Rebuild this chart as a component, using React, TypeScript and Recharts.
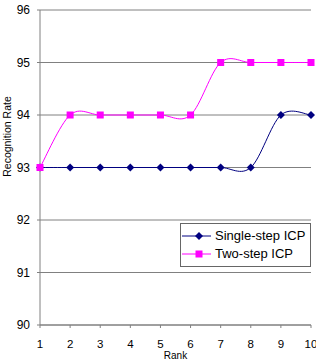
import React from 'react';
import { LineChart, Line, XAxis, YAxis, CartesianGrid } from 'recharts';

const ranks = [1, 2, 3, 4, 5, 6, 7, 8, 9, 10];
const singleStep = [93, 93, 93, 93, 93, 93, 93, 93, 94, 94];
const twoStep = [93, 94, 94, 94, 94, 94, 95, 95, 95, 95];
const yTicks = [90, 91, 92, 93, 94, 95, 96];

const data = ranks.map((r, i) => ({ rank: r, single: singleStep[i], two: twoStep[i] }));

const FONT = 'Arial, "Liberation Sans", sans-serif';

// Excel-style smoothed line (Catmull-Rom through the points)
const excelSmooth = (context: any) => {
  let pts: number[][] = [];
  return {
    areaStart() {},
    areaEnd() {},
    lineStart() {
      pts = [];
    },
    point(x: number, y: number) {
      pts.push([+x, +y]);
    },
    lineEnd() {
      if (!pts.length) return;
      context.moveTo(pts[0][0], pts[0][1]);
      for (let i = 0; i < pts.length - 1; i++) {
        const p0 = pts[i - 1] || pts[i];
        const p1 = pts[i];
        const p2 = pts[i + 1];
        const p3 = pts[i + 2] || p2;
        context.bezierCurveTo(
          p1[0] + (p2[0] - p0[0]) / 6,
          p1[1] + (p2[1] - p0[1]) / 6,
          p2[0] - (p3[0] - p1[0]) / 6,
          p2[1] - (p3[1] - p1[1]) / 6,
          p2[0],
          p2[1]
        );
      }
    },
  };
};

const Diamond = (props: any) => {
  const { cx, cy } = props;
  if (cx == null || cy == null) return null;
  return <path d={`M${cx},${cy - 4}L${cx + 4},${cy}L${cx},${cy + 4}L${cx - 4},${cy}Z`} fill="#000080" />;
};

const Square = (props: any) => {
  const { cx, cy } = props;
  if (cx == null || cy == null) return null;
  return <rect x={cx - 3.5} y={cy - 3.5} width={7} height={7} fill="#ff00ff" />;
};

const LegendBox = () => (
  <div
    style={{
      position: 'absolute',
      left: 180,
      top: 223,
      width: 131,
      height: 44,
      border: '1px solid #666',
      background: '#fff',
      boxSizing: 'border-box',
      fontFamily: FONT,
      fontSize: 13,
      color: '#000',
    }}
  >
    <svg width={32} height={43} style={{ position: 'absolute', left: 0, top: 0 }}>
      <line x1={1} y1={12} x2={30} y2={12} stroke="#000080" strokeWidth={1} />
      <Diamond cx={18} cy={12} />
      <line x1={1} y1={30} x2={30} y2={30} stroke="#ff00ff" strokeWidth={1} />
      <Square cx={18} cy={30} />
    </svg>
    <div style={{ position: 'absolute', left: 34, top: 4, lineHeight: '16px', whiteSpace: 'nowrap' }}>Single-step ICP</div>
    <div style={{ position: 'absolute', left: 34, top: 22, lineHeight: '16px', whiteSpace: 'nowrap' }}>Two-step ICP</div>
  </div>
);

export default function App() {
  return (
    <div style={{ position: 'absolute', left: 0, top: 0, width: 316, height: 361, background: '#fff' }}>
      <LineChart width={316} height={361} data={data} margin={{ top: 10, right: 5, left: 0, bottom: 0 }}>
        <CartesianGrid horizontal vertical={false} stroke="#808080" />
        <XAxis
          dataKey="rank"
          interval={0}
          height={36}
          stroke="#808080"
          tickSize={3}
          tickMargin={12}
          tick={{ fill: '#000', fontSize: 11.5, fontFamily: FONT }}
          label={{ value: 'Rank', position: 'insideBottom', offset: 2, fill: '#000', fontSize: 10, fontFamily: FONT }}
        />
        <YAxis
          domain={[90, 96]}
          ticks={yTicks}
          width={40}
          stroke="#808080"
          tickSize={3}
          tickMargin={7}
          tick={{ fill: '#000', fontSize: 12, fontFamily: FONT }}
          label={{
            value: 'Recognition Rate',
            angle: -90,
            position: 'insideLeft',
            offset: 0,
            dy: -31,
            dx: 7,
            fill: '#000',
            fontSize: 10.5,
            fontFamily: FONT,
            style: { textAnchor: 'middle' },
          }}
        />
        <Line
          dataKey="single"
          name="Single-step ICP"
          type={excelSmooth as any}
          stroke="#000080"
          strokeWidth={1}
          dot={<Diamond />}
          isAnimationActive={false}
        />
        <Line
          dataKey="two"
          name="Two-step ICP"
          type={excelSmooth as any}
          stroke="#ff00ff"
          strokeWidth={1}
          dot={<Square />}
          isAnimationActive={false}
        />
      </LineChart>
      <LegendBox />
    </div>
  );
}
